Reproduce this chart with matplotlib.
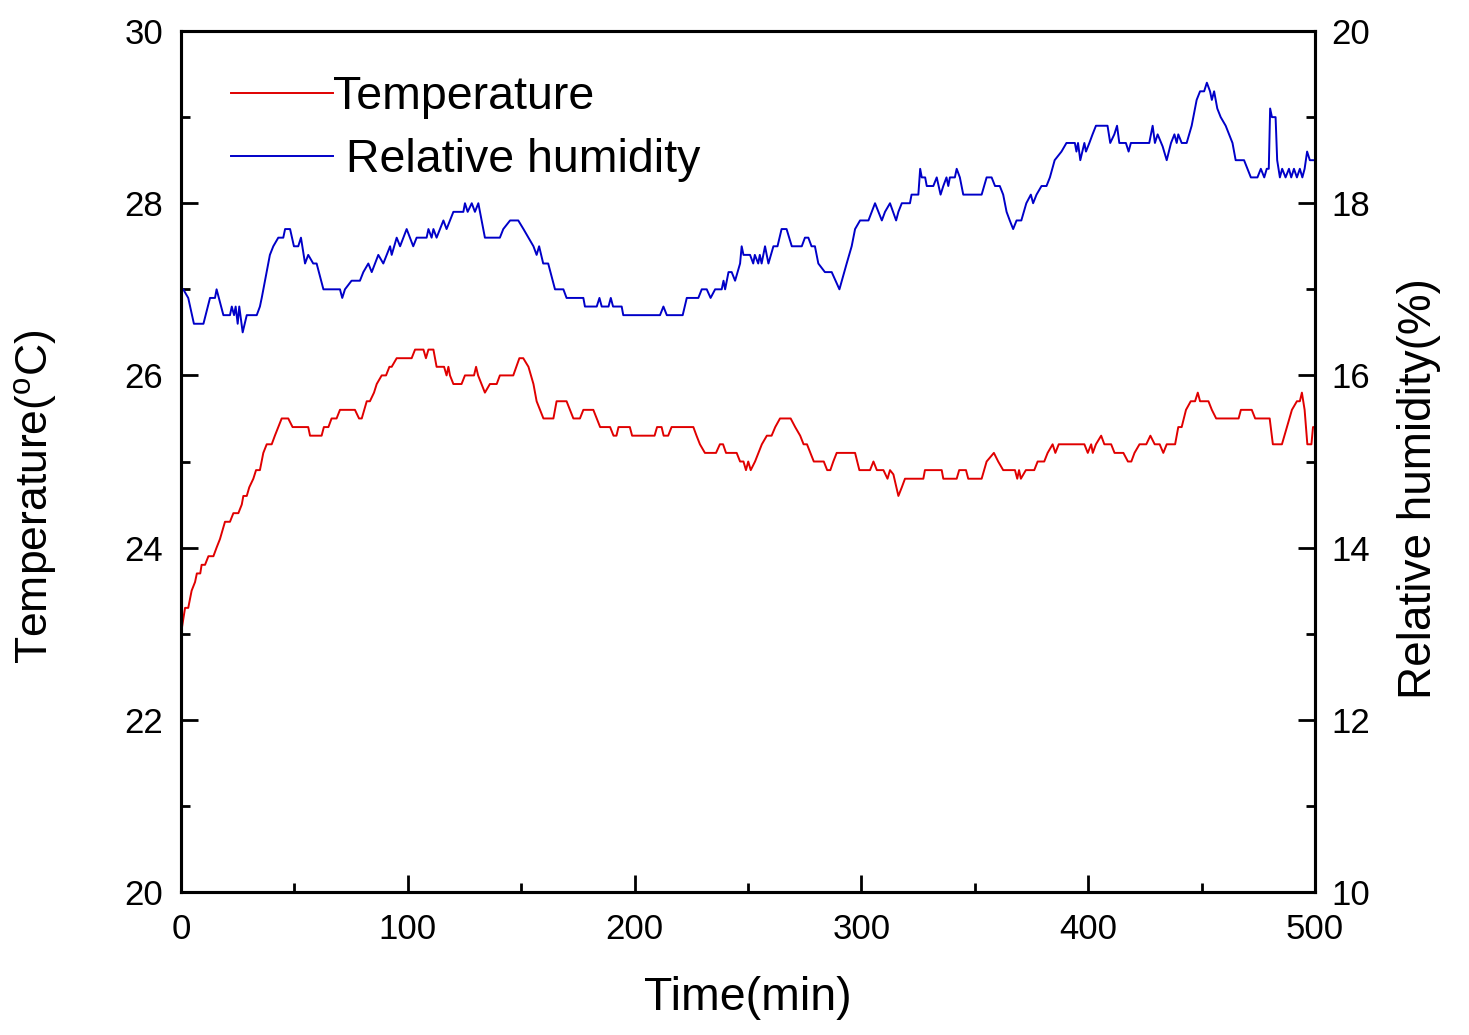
import numpy as np
import matplotlib
matplotlib.use("Agg")
import matplotlib.pyplot as plt
from matplotlib.ticker import MultipleLocator

plt.rcParams['font.family'] = ['Liberation Sans', 'DejaVu Sans']

# temperature trace (time in min, degC)
temp_t = [0, 1.8, 3.2, 4.7, 6.2, 7.0, 8.5, 9.1, 10.6, 12.1, 14.3, 15.7, 17.2, 19.4, 21.6, 23.1,
          25.3, 26.8, 27.5, 29.0, 30.1, 31.9, 33.1, 34.8, 36.3, 37.8, 40.0, 41.4, 42.9, 44.4, 47.3,
          49.2, 56.1, 56.9, 62.0, 63.0, 65.0, 66.4, 68.6, 70.1, 76.7, 78.5, 79.7, 81.9, 83.3, 85.1,
          86.3, 88.5, 90.4, 91.9, 92.9, 95.1, 101.7, 103.2, 106.9, 108.0, 109.1, 111.3, 112.7, 116.0,
          117.1, 117.9, 118.6, 120.1, 123.7, 125.2, 129.2, 130.1, 131.0, 134.0, 136.2, 139.2, 140.6,
          146.5, 149.2, 150.9, 153.2, 155.4, 156.8, 158.3, 159.8, 164.2, 165.6, 170.0, 171.5, 173.0,
          175.9, 177.4, 181.8, 183.3, 184.8, 189.2, 190.7, 192.0, 192.9, 197.9, 198.9, 208.8, 209.9,
          211.9, 212.8, 214.8, 216.3, 225.9, 227.3, 228.8, 231.0, 235.9, 237.6, 239.0, 240.3, 245.0,
          246.5, 248.0, 249.1, 250.1, 251.2, 253.1, 256.1, 258.3, 260.4, 262.0, 264.1, 268.8, 270.8,
          273.0, 274.5, 276.0, 277.5, 279.0, 283.4, 284.9, 286.3, 287.6, 289.1, 297.2, 299.1, 303.8,
          305.3, 306.8, 309.7, 311.5, 312.6, 314.1, 316.3, 317.8, 319.2, 327.3, 328.0, 335.4, 336.1,
          342.0, 343.1, 346.1, 347.1, 353.0, 355.2, 358.4, 360.3, 362.5, 367.7, 368.7, 369.5, 370.3,
          372.5, 376.2, 377.7, 380.6, 382.1, 384.3, 385.5, 387.0, 398.3, 399.8, 401.3, 402.0, 403.4,
          405.7, 407.1, 410.1, 411.6, 415.5, 417.5, 419.0, 420.4, 422.6, 425.6, 427.4, 429.3, 431.5,
          433.1, 434.6, 438.3, 439.7, 441.2, 443.1, 445.2, 447.1, 448.3, 449.3, 453.0, 454.5, 456.4,
          466.3, 467.3, 472.1, 473.6, 480.0, 481.4, 485.4, 487.6, 489.8, 492.0, 493.3, 494.2, 495.4,
          496.6, 498.4, 499.1, 500]
temp_v = [23.0, 23.3, 23.3, 23.5, 23.6, 23.7, 23.7, 23.8, 23.8, 23.9, 23.9, 24.0, 24.1, 24.3, 24.3, 24.4,
          24.4, 24.5, 24.6, 24.6, 24.7, 24.8, 24.9, 24.9, 25.1, 25.2, 25.2, 25.3, 25.4, 25.5, 25.5,
          25.4, 25.4, 25.3, 25.3, 25.4, 25.4, 25.5, 25.5, 25.6, 25.6, 25.5, 25.5, 25.7, 25.7, 25.8,
          25.9, 26.0, 26.0, 26.1, 26.1, 26.2, 26.2, 26.3, 26.3, 26.2, 26.3, 26.3, 26.1, 26.1,
          26.0, 26.1, 26.0, 25.9, 25.9, 26.0, 26.0, 26.1, 26.0, 25.8, 25.9, 25.9, 26.0,
          26.0, 26.2, 26.2, 26.1, 25.9, 25.7, 25.6, 25.5, 25.5, 25.7, 25.7, 25.6, 25.5,
          25.5, 25.6, 25.6, 25.5, 25.4, 25.4, 25.3, 25.3, 25.4, 25.4, 25.3, 25.3, 25.4,
          25.4, 25.3, 25.3, 25.4, 25.4, 25.3, 25.2, 25.1, 25.1, 25.2, 25.2, 25.1, 25.1,
          25.0, 25.0, 24.9, 25.0, 24.9, 25.0, 25.2, 25.3, 25.3, 25.4, 25.5, 25.5, 25.4,
          25.3, 25.2, 25.2, 25.1, 25.0, 25.0, 24.9, 24.9, 25.0, 25.1, 25.1, 24.9, 24.9,
          25.0, 24.9, 24.9, 24.8, 24.9, 24.85, 24.6, 24.7, 24.8, 24.8, 24.9, 24.9, 24.8,
          24.8, 24.9, 24.9, 24.8, 24.8, 25.0, 25.1, 25.0, 24.9, 24.9, 24.8, 24.9, 24.8,
          24.9, 24.9, 25.0, 25.0, 25.1, 25.2, 25.1, 25.2, 25.2, 25.1, 25.2, 25.1, 25.2,
          25.3, 25.2, 25.2, 25.1, 25.1, 25.0, 25.0, 25.1, 25.2, 25.2, 25.3, 25.2, 25.2,
          25.1, 25.2, 25.2, 25.4, 25.4, 25.6, 25.7, 25.7, 25.8, 25.7, 25.7, 25.6, 25.5,
          25.5, 25.6, 25.6, 25.5, 25.5, 25.2, 25.2, 25.4, 25.6, 25.7, 25.7, 25.8, 25.6,
          25.2, 25.2, 25.4, 25.4]

# relative humidity trace (time in min, %)
hum_t = [0, 1.0, 3.2, 5.7, 9.9, 12.8, 15.0, 15.7, 18.7, 21.6, 22.4, 23.4, 24.1, 25.0, 25.7, 27.2,
         29.0, 33.4, 34.8, 35.6, 39.2, 40.7, 42.9, 45.1, 45.9, 48.1, 49.8, 51.7, 52.9, 54.7, 56.1,
         58.3, 59.8, 62.8, 70.1, 71.1, 72.3, 75.2, 78.9, 80.4, 82.6, 84.1, 87.0, 89.2, 92.2, 92.9,
         95.1, 96.6, 99.5, 102.4, 103.9, 108.3, 109.1, 110.5, 111.3, 112.7, 115.7, 117.1, 120.1,
         124.5, 125.2, 126.4, 128.2, 129.6, 131.1, 134.0, 140.6, 142.1, 145.1, 148.7, 151.0, 153.2,
         155.4, 156.8, 157.9, 159.7, 161.9, 164.9, 168.6, 170.0, 177.4, 178.1, 183.3, 184.5, 185.5,
         188.5, 189.5, 190.5, 194.3, 195.0, 211.2, 212.7, 214.2, 221.2, 223.0, 228.1, 229.6, 231.8,
         233.5, 235.5, 238.4, 239.2, 239.9, 241.4, 242.8, 244.3, 246.5, 247.2, 248.0, 250.9, 252.3,
         253.0, 254.5, 255.2, 256.0, 257.5, 259.0, 261.2, 263.0, 264.8, 267.0, 269.3, 273.7, 275.1,
         276.6, 278.0, 279.5, 281.0, 283.9, 286.9, 290.3, 293.5, 295.7, 297.2, 299.4, 303.1, 306.0,
         309.0, 310.4, 312.6, 315.3, 316.3, 317.8, 321.4, 322.1, 325.1, 325.9, 326.6, 328.1, 328.8,
         331.7, 333.2, 334.9, 336.1, 337.5, 338.3, 339.0, 341.2, 342.0, 343.4, 344.9, 353.0, 355.2,
         357.4, 358.9, 361.0, 362.5, 364.0, 365.4, 366.9, 368.4, 370.5, 372.7, 374.7, 375.7, 377.2,
         379.4, 381.6, 383.1, 385.2, 388.2, 390.4, 394.1, 394.8, 395.5, 396.5, 398.3, 399.0, 400.5,
         401.9, 403.4, 408.5, 409.7, 411.5, 412.7, 413.7, 416.6, 417.8, 418.8, 426.9, 428.4, 429.4,
         430.6, 432.8, 434.6, 436.5, 438.0, 439.0, 439.7, 441.2, 443.4, 445.6, 447.8, 449.3, 451.1,
         452.3, 453.7, 454.5, 455.5, 456.9, 458.4, 460.6, 462.1, 463.6, 465.0, 468.7, 471.7, 474.6,
         476.1, 477.6, 478.7, 479.6, 480.2, 481.0, 482.6, 483.3, 484.5, 485.5, 487.0, 488.5, 489.5,
         490.7, 492.0, 493.3, 494.4, 495.4, 496.5, 497.7, 500]
hum_v = [17.0, 17.0, 16.9, 16.6, 16.6, 16.9, 16.9, 17.0, 16.7, 16.7, 16.8, 16.7, 16.8, 16.6, 16.8, 16.5,
         16.7, 16.7, 16.8, 16.9, 17.4, 17.5, 17.6, 17.6, 17.7, 17.7, 17.5, 17.5, 17.6, 17.3, 17.4,
         17.3, 17.3, 17.0, 17.0, 16.9, 17.0, 17.1, 17.1, 17.2, 17.3, 17.2, 17.4, 17.3, 17.5, 17.4,
         17.6, 17.5, 17.7, 17.5, 17.6, 17.6, 17.7, 17.6, 17.7, 17.6, 17.8, 17.7, 17.9,
         17.9, 18.0, 17.9, 18.0, 17.9, 18.0, 17.6, 17.6, 17.7, 17.8, 17.8, 17.7, 17.6,
         17.5, 17.4, 17.5, 17.3, 17.3, 17.0, 17.0, 16.9, 16.9, 16.8, 16.8, 16.9, 16.8,
         16.8, 16.9, 16.8, 16.8, 16.7, 16.7, 16.8, 16.7, 16.7, 16.9, 16.9, 17.0, 17.0,
         16.9, 17.0, 17.0, 17.1, 17.0, 17.2, 17.2, 17.1, 17.3, 17.5, 17.4, 17.4, 17.3,
         17.4, 17.3, 17.4, 17.3, 17.5, 17.3, 17.5, 17.5, 17.7, 17.7, 17.5, 17.5, 17.6,
         17.6, 17.5, 17.5, 17.3, 17.2, 17.2, 17.0, 17.3, 17.5, 17.7, 17.8, 17.8, 18.0,
         17.8, 17.9, 18.0, 17.8, 17.9, 18.0, 18.0, 18.1, 18.1, 18.4, 18.3, 18.3, 18.2,
         18.2, 18.3, 18.1, 18.2, 18.3, 18.2, 18.3, 18.3, 18.4, 18.3, 18.1, 18.1, 18.3,
         18.3, 18.2, 18.2, 18.1, 17.9, 17.8, 17.7, 17.8, 17.8, 18.0, 18.1, 18.0, 18.1,
         18.2, 18.2, 18.3, 18.5, 18.6, 18.7, 18.7, 18.6, 18.7, 18.5, 18.7, 18.6, 18.7,
         18.8, 18.9, 18.9, 18.7, 18.8, 18.9, 18.7, 18.7, 18.6, 18.7, 18.7, 18.9, 18.7,
         18.8, 18.66, 18.5, 18.7, 18.8, 18.7, 18.8, 18.7, 18.7, 18.9, 19.2, 19.3, 19.3,
         19.4, 19.3, 19.2, 19.3, 19.1, 19.0, 18.9, 18.8, 18.7, 18.5, 18.5, 18.3, 18.3,
         18.4, 18.3, 18.4, 18.4, 19.1, 19.0, 19.0, 18.5, 18.3, 18.4, 18.3, 18.4, 18.3,
         18.4, 18.3, 18.4, 18.3, 18.4, 18.6, 18.5, 18.5]

red = '#e00000'
blue = '#0000c8'

fig = plt.figure(figsize=(14.69, 10.35), dpi=100)
ax = fig.add_axes([0.1232, 0.1382, 0.772, 0.8318])
ax2 = ax.twinx()

l1, = ax.plot(temp_t, temp_v, color=red, lw=1.4, label='Temperature')
l2, = ax2.plot(hum_t, hum_v, color=blue, lw=1.4, label=' Relative humidity')

ax.set_xlim(0, 500)
ax.set_ylim(20, 30)
ax2.set_ylim(10, 20)

ax.xaxis.set_major_locator(MultipleLocator(100))
ax.xaxis.set_minor_locator(MultipleLocator(50))
ax.yaxis.set_major_locator(MultipleLocator(2))
ax.yaxis.set_minor_locator(MultipleLocator(1))
ax2.yaxis.set_major_locator(MultipleLocator(2))
ax2.yaxis.set_minor_locator(MultipleLocator(1))

for a in (ax, ax2):
    for s in a.spines.values():
        s.set_linewidth(2.2)
    a.tick_params(which='major', direction='in', length=12, width=2.0, labelsize=25)
    a.tick_params(which='minor', direction='in', length=6.5, width=2.0)
ax.tick_params(axis='y', which='both', left=True, right=False, pad=13)
ax.tick_params(axis='x', which='both', top=False, pad=15)
ax2.tick_params(axis='y', which='both', right=True, left=False, pad=12)

ax.set_xlabel('Time(min)', fontsize=33.5, labelpad=22)
ax.set_ylabel(r'Temperature($^\mathregular{o}$C)', fontsize=32)
ax2.set_ylabel('Relative humidity(%)', fontsize=33)
# labels sit a bit below the axis centre in the original
ax.yaxis.set_label_coords(-0.108, 0.459)
ax2.yaxis.set_label_coords(1.072, 0.469)

ax.legend(handles=[l1, l2], loc='upper left', frameon=False, fontsize=33.5,
          handlelength=2.2, handletextpad=0.0, labelspacing=0.4,
          bbox_to_anchor=(0.0195, 0.981), borderaxespad=0.2)

fig.savefig('out.png', dpi=100)
